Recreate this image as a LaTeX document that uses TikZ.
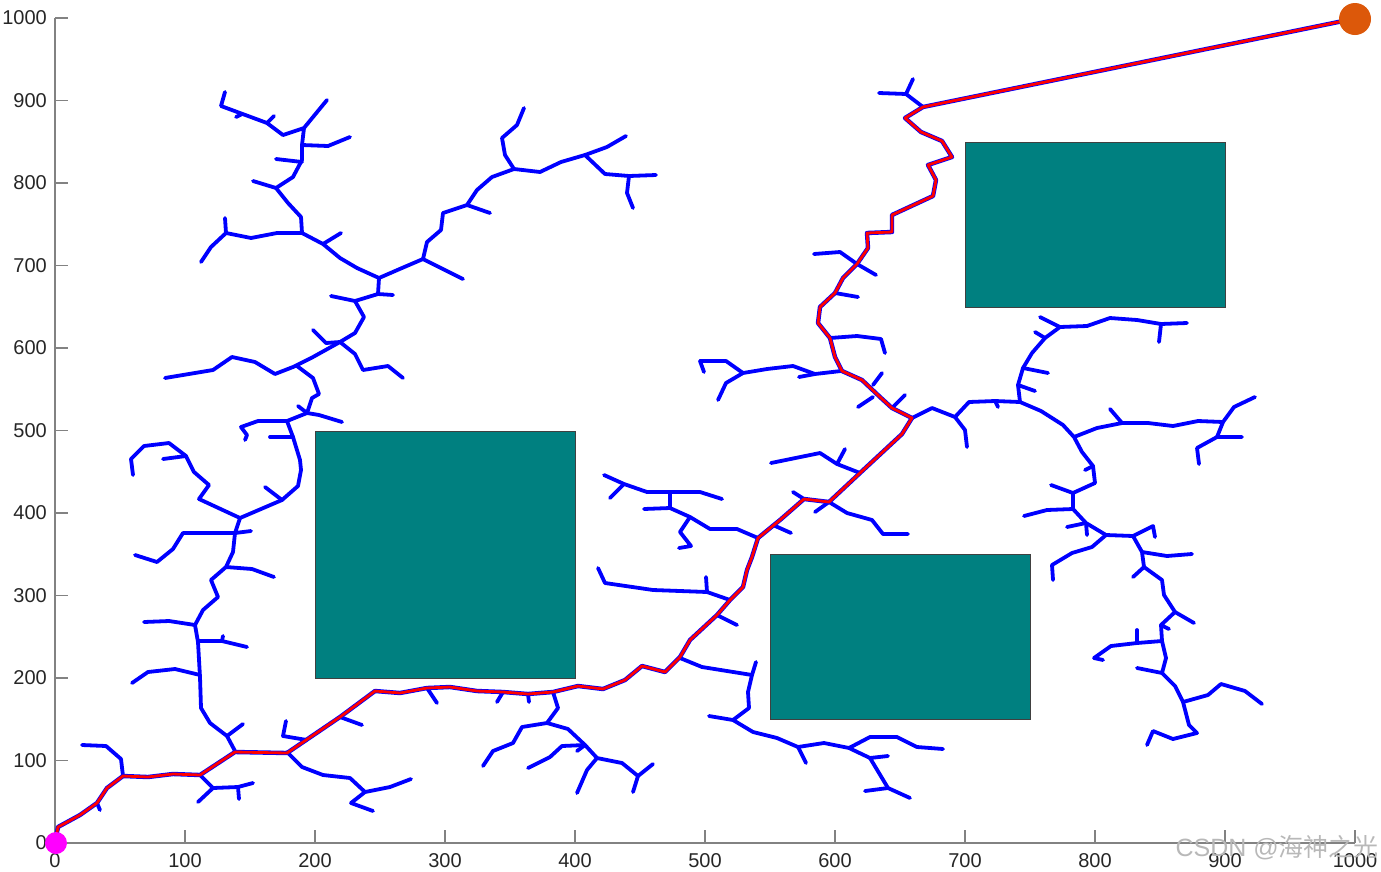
\documentclass[tikz,border=0pt]{standalone}
\usepackage{fontspec}
\setmainfont{Liberation Sans}
\newfontfamily\cjkfont{Noto Sans CJK SC}
\definecolor{obst}{RGB}{0,128,128}
\definecolor{treeblue}{RGB}{0,0,255}
\definecolor{goalc}{RGB}{220,88,10}
\definecolor{startc}{RGB}{255,0,255}
\definecolor{axc}{RGB}{130,130,130}
\definecolor{labc}{RGB}{38,38,38}
\tikzset{
  tree/.style={draw=treeblue,line width=3.8pt,line join=round,line cap=round},
  pathblue/.style={draw=treeblue,line width=4.4pt,line join=round,line cap=round},
  pathred/.style={draw=red,line width=2.8pt,line join=round,line cap=round},
  obstacle/.style={fill=obst,draw=black!75,line width=0.9pt},
  ticklab/.style={text=labc,font=\fontsize{20}{24}\selectfont,inner sep=0pt},
  axisline/.style={draw=axc,line width=1.3pt},
}
\begin{document}
\begin{tikzpicture}[x=1pt,y=-1pt]
\useasboundingbox (0,0) rectangle (1381,871);
% axes
\draw[axisline] (55,18) -- (55,843) -- (1355,843);
\foreach \k in {0,...,10}{
  \draw[axisline] (55,843-82.5*\k) -- (68,843-82.5*\k);
  \draw[axisline] (55+130*\k,843) -- (55+130*\k,830);
  \pgfmathtruncatemacro{\lab}{100*\k}
  \node[ticklab,anchor=east] at (47,843-82.5*\k) {\lab};
  \node[ticklab,anchor=north] at (55+130*\k,853) {\lab};
}
% obstacles
\draw[obstacle] (315,431) rectangle (575,678);
\draw[obstacle] (770,554) rectangle (1030,719);
\draw[obstacle] (965,142) rectangle (1225,307);
% tree: upper left
\draw[tree] (225,92)--(221,106)--(267,123)--(283,135)--(304,128)--(327,100);
\draw[tree] (236,117)--(242,114);
\draw[tree] (267,123)--(274,116);
\draw[tree] (304,128)--(302,145)--(302,160)--(293,177)--(276,188)--(253,181);
\draw[tree] (302,145)--(328,146)--(350,137);
\draw[tree] (276,159)--(302,162);
\draw[tree] (276,188)--(288,203)--(301,217)--(302,233)--(277,233)--(251,238)--(226,233)--(211,247)--(201,262);
\draw[tree] (226,233)--(225,218);
\draw[tree] (302,233)--(323,244)--(341,233);
\draw[tree] (323,244)--(340,258)--(357,268)--(379,278)--(402,268)--(423,259)--(427,242)--(441,230)--(443,213)--(467,205)--(477,190)--(492,177)--(514,169)--(540,172)--(561,162)--(585,155)--(607,147)--(626,136);
\draw[tree] (514,169)--(505,155)--(502,138)--(517,125)--(524,108);
\draw[tree] (585,155)--(605,174)--(629,176)--(656,175);
\draw[tree] (629,176)--(627,193)--(633,208);
\draw[tree] (467,205)--(490,213);
\draw[tree] (423,259)--(463,279);
\draw[tree] (379,278)--(378,294)--(393,295);
\draw[tree] (378,294)--(355,301)--(331,296);
\draw[tree] (355,301)--(364,317)--(355,333)--(340,342)--(326,343)--(313,330);
\draw[tree] (340,342)--(313,357)--(293,367)--(275,374)--(255,362)--(232,357)--(213,370)--(165,378);
\draw[tree] (340,342)--(355,354)--(363,370)--(388,366)--(403,378);
% tree: left middle
\draw[tree] (297,366)--(313,378)--(319,394)--(312,398)--(307,413)--(287,421)--(258,421)--(241,427)--(247,435)--(245,440);
\draw[tree] (307,413)--(298,406);
\draw[tree] (307,413)--(319,415)--(342,422);
\draw[tree] (287,421)--(293,437)--(300,460)--(301,470)--(298,486)--(282,500)--(240,518)--(199,499)--(209,485)--(194,472)--(186,456)--(169,443)--(144,446)--(131,459)--(133,475);
\draw[tree] (270,437)--(293,437);
\draw[tree] (282,500)--(265,487);
\draw[tree] (163,459)--(186,456);
\draw[tree] (240,518)--(235,533)--(183,533)--(173,549)--(157,562)--(135,555);
\draw[tree] (235,533)--(251,531);
\draw[tree] (235,533)--(233,552)--(226,567)--(211,580)--(218,597)--(203,610)--(195,625)--(169,621)--(144,622);
\draw[tree] (226,567)--(252,569)--(274,577);
\draw[tree] (195,625)--(198,642)--(200,677)--(201,708)--(210,723)--(227,736)--(235,751);
\draw[tree] (198,641)--(222,641)--(247,647);
\draw[tree] (222,641)--(223,636);
\draw[tree] (200,675)--(175,669)--(148,672)--(132,683);
\draw[tree] (227,736)--(243,724);
% tree: bottom left
\draw[tree] (123,776)--(121,759)--(106,746)--(82,745);
\draw[tree] (97,803)--(100,810);
\draw[tree] (200,775)--(213,788)--(238,787)--(253,783);
\draw[tree] (213,788)--(198,802);
\draw[tree] (238,787)--(239,799);
\draw[tree] (287,752)--(302,767)--(323,775)--(350,778)--(365,792)--(390,787)--(411,779);
\draw[tree] (365,792)--(351,803)--(373,811);
\draw[tree] (307,740)--(283,736)--(286,721);
\draw[tree] (340,717)--(362,725);
\draw[tree] (427,688)--(437,703);
\draw[tree] (503,692)--(497,702);
\draw[tree] (528,694)--(529,702);
\draw[tree] (553,692)--(558,708)--(547,723)--(522,727)--(513,743)--(493,751)--(483,766);
\draw[tree] (547,723)--(568,729)--(585,745)--(597,758)--(622,763)--(638,776)--(653,764);
\draw[tree] (638,776)--(633,792);
\draw[tree] (597,758)--(587,770)--(577,793);
\draw[tree] (585,745)--(562,746)--(550,757)--(528,768);
\draw[tree] (585,745)--(577,751);
% tree: bottom middle
\draw[tree] (680,658)--(702,667)--(727,671)--(752,675)--(756,662);
\draw[tree] (752,675)--(748,692)--(749,708)--(733,720)--(709,716);
\draw[tree] (733,720)--(753,732)--(777,738)--(798,747)--(824,743)--(849,748)--(870,737)--(897,737)--(917,747)--(943,749);
\draw[tree] (798,747)--(806,763);
\draw[tree] (849,748)--(870,758)--(888,756);
\draw[tree] (870,758)--(888,788)--(910,798);
\draw[tree] (888,788)--(865,791);
% tree: middle
\draw[tree] (730,600)--(707,592)--(653,590)--(605,583)--(598,568);
\draw[tree] (707,592)--(706,577);
\draw[tree] (717,615)--(737,625);
\draw[tree] (758,538)--(737,529)--(710,529)--(690,517)--(670,508)--(670,492);
\draw[tree] (690,517)--(680,532)--(691,546)--(679,548);
\draw[tree] (604,475)--(624,484)--(647,492)--(670,492)--(700,492)--(722,499);
\draw[tree] (624,484)--(610,498);
\draw[tree] (670,508)--(644,509);
\draw[tree] (773,525)--(791,533);
\draw[tree] (793,492)--(804,499);
\draw[tree] (815,512)--(829,502)--(847,513)--(872,520)--(883,534)--(908,534);
\draw[tree] (771,463)--(820,453)--(837,464)--(860,473);
\draw[tree] (837,464)--(845,449);
\draw[tree] (873,385)--(882,373);
\draw[tree] (873,397)--(858,407);
\draw[tree] (893,407)--(905,395);
% tree: right
\draw[tree] (912,418)--(932,408)--(955,417)--(969,402)--(995,401)--(1020,402)--(1041,411)--(1063,425)--(1074,437)--(1082,452)--(1093,466)--(1095,483)--(1073,493)--(1051,485);
\draw[tree] (955,417)--(965,430)--(967,447);
\draw[tree] (995,401)--(998,407);
\draw[tree] (1020,402)--(1018,385)--(1023,368)--(1032,353)--(1045,338)--(1060,327)--(1087,326)--(1110,318)--(1137,320)--(1161,324)--(1187,323);
\draw[tree] (1161,324)--(1159,342);
\draw[tree] (1060,327)--(1040,317);
\draw[tree] (1045,338)--(1035,332);
\draw[tree] (1023,368)--(1048,373);
\draw[tree] (1018,385)--(1035,391);
\draw[tree] (1074,437)--(1097,428)--(1122,423)--(1148,423)--(1173,426)--(1198,421)--(1223,422)--(1234,407)--(1255,397);
\draw[tree] (1122,423)--(1110,409);
\draw[tree] (1223,422)--(1217,437)--(1242,437);
\draw[tree] (1217,437)--(1197,448)--(1199,464);
\draw[tree] (1093,466)--(1085,470);
\draw[tree] (1073,493)--(1073,509)--(1047,510)--(1024,516);
\draw[tree] (1073,509)--(1086,523)--(1106,535)--(1133,536)--(1153,526)--(1155,537);
\draw[tree] (1086,523)--(1067,527);
\draw[tree] (1086,523)--(1087,535);
\draw[tree] (1106,535)--(1092,547)--(1072,553)--(1052,565)--(1053,580);
\draw[tree] (1133,536)--(1142,552)--(1144,567)--(1133,577);
\draw[tree] (1142,552)--(1167,556)--(1192,554);
\draw[tree] (1144,567)--(1162,580)--(1164,595)--(1175,612)--(1194,623);
\draw[tree] (1175,612)--(1161,625)--(1169,629);
\draw[tree] (1161,625)--(1162,641)--(1137,643)--(1111,646)--(1094,658)--(1103,660);
\draw[tree] (1137,643)--(1137,630);
\draw[tree] (1162,641)--(1166,658)--(1162,673)--(1137,668);
\draw[tree] (1162,673)--(1175,686)--(1183,702)--(1208,695)--(1221,684)--(1245,691)--(1262,704);
\draw[tree] (1183,702)--(1189,725)--(1197,733)--(1173,739)--(1153,731)--(1147,745);
% tree: top right
\draw[tree] (879,93)--(906,94)--(923,107);
\draw[tree] (906,94)--(913,79);
\draw[tree] (814,254)--(840,252)--(857,264)--(876,275);
\draw[tree] (835,293)--(858,297);
\draw[tree] (830,338)--(857,336)--(881,339)--(885,353);
\draw[tree] (700,361)--(704,372);
\draw[tree] (841,371)--(815,374)--(793,366)--(767,369)--(743,373)--(726,361)--(700,361);
\draw[tree] (815,374)--(799,377);
\draw[tree] (743,373)--(726,383)--(718,400);
% final path
\def\finalpath{(55,843)--(58,827)--(80,815)--(97,803)--(107,788)--(123,776)--(148,777)--(173,774)--(200,775)--(235,752)--(287,753)--(340,717)--(375,691)--(400,693)--(427,688)--(450,687)--(477,691)--(503,692)--(528,694)--(553,692)--(578,686)--(603,689)--(625,680)--(642,666)--(665,672)--(680,657)--(690,640)--(717,615)--(730,600)--(743,587)--(747,570)--(752,557)--(758,538)--(780,520)--(804,499)--(829,502)--(860,473)--(902,434)--(912,418)--(892,408)--(880,397)--(862,380)--(842,371)--(835,357)--(830,338)--(818,323)--(820,307)--(835,293)--(843,278)--(857,264)--(868,248)--(867,233)--(892,232)--(892,215)--(933,196)--(936,180)--(928,165)--(952,157)--(942,141)--(921,132)--(905,118)--(923,107)--(1353,19)}
\draw[pathblue] \finalpath;
\draw[pathred] \finalpath;
% start and goal
\fill[startc] (56,843) circle (11);
\fill[goalc] (1355,19) circle (16);
% watermark
\node[anchor=east,text=black!28,inner sep=0pt,font=\fontsize{25}{29}\selectfont] at (1379,848) {CSDN @{\cjkfont 海神之光}};
\end{tikzpicture}
\end{document}
